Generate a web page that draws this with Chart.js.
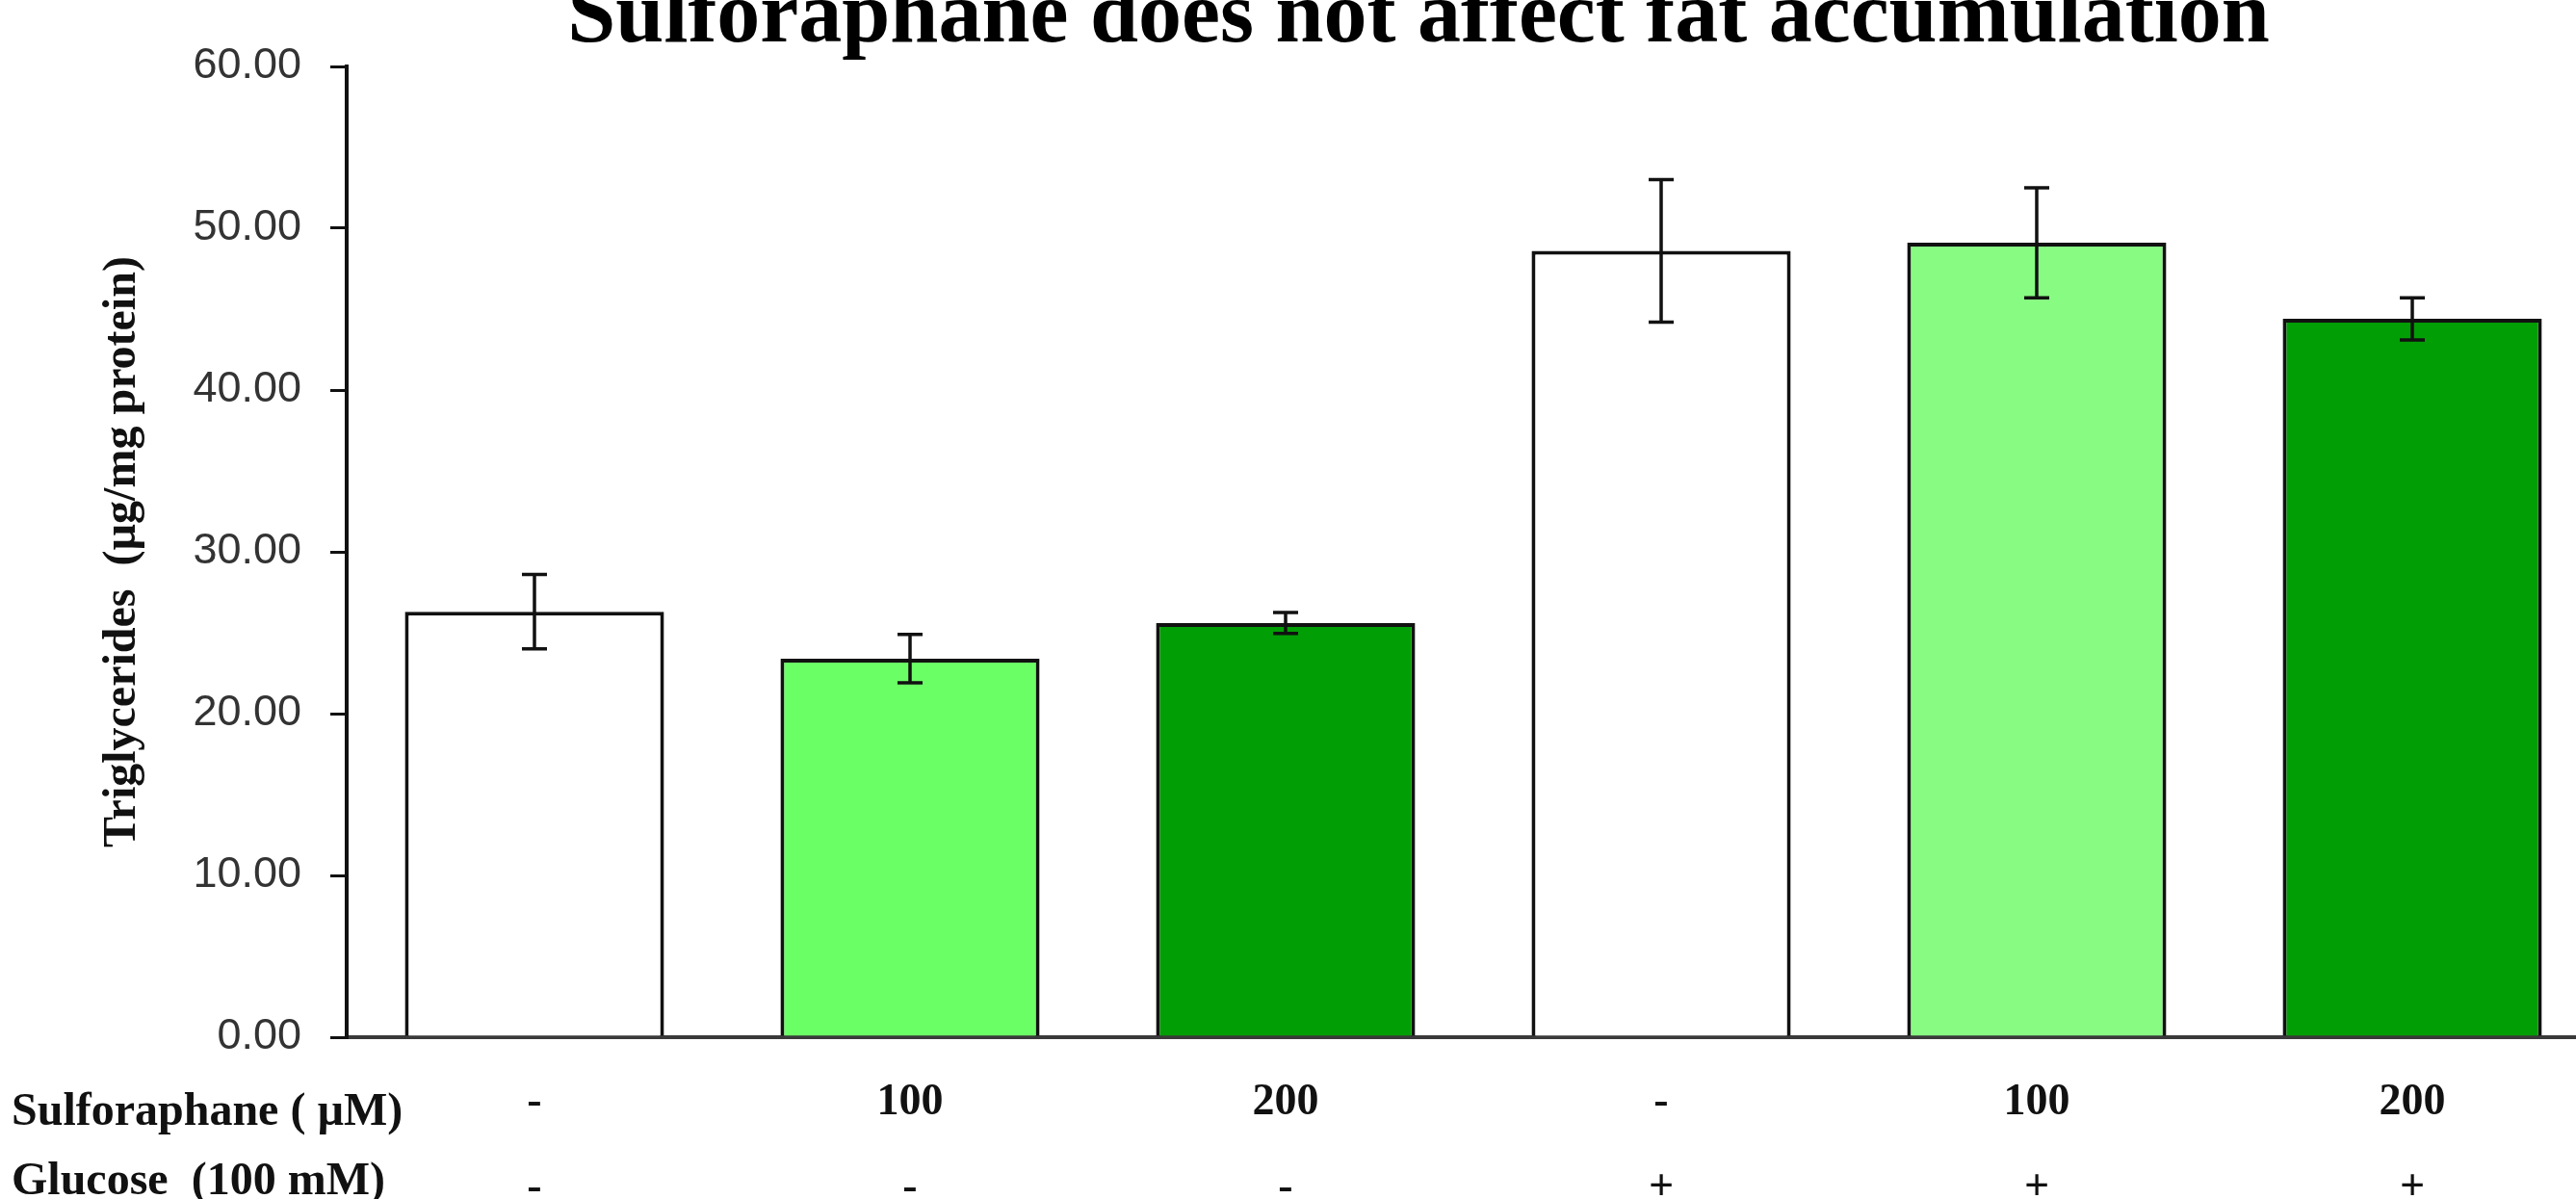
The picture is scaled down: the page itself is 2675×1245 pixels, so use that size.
<!DOCTYPE html>
<html>
<head>
<meta charset="utf-8">
<script src="https://cdn.jsdelivr.net/npm/chart.js@4/dist/chart.umd.min.js"></script>
<style>
  html, body { margin: 0; padding: 0; background: #ffffff; overflow: hidden; }
  #wrap { position: relative; width: 2700px; height: 1245px; }
</style>
</head>
<body>
<div id="wrap"><canvas id="chart"></canvas></div>
<script>
// Treatment groups: sulforaphane dose (µM) and glucose (100 mM) presence
const sulforaphaneDose = ['-', '100', '200', '-', '100', '200'];
const glucose = ['-', '-', '-', '+', '+', '+'];
// Triglyceride content (µg/mg protein), mean and error
const triglycerides = [26.3, 23.4, 25.6, 48.6, 49.1, 44.4];
const triglycerideErr = [2.3, 1.5, 0.65, 4.4, 3.4, 1.3];
const barColors = ['#ffffff', '#6bff66', '#029e05', '#ffffff', '#88fb83', '#029e05'];
const chartTitle = 'Sulforaphane does not affect fat accumulation';
const rowTitles = ['Sulforaphane ( \u00b5M)', 'Glucose  (100 mM)'];
const yMin = 0, yMax = 60, yStep = 10;

const labels = sulforaphaneDose.map((d, i) => [d, glucose[i]]);

// error bars drawn on top of the bars
const errorBars = {
  id: 'errorBars',
  afterDatasetsDraw(chart) {
    const { ctx, scales: { y } } = chart;
    const meta = chart.getDatasetMeta(0);
    ctx.save();
    ctx.strokeStyle = '#111111';
    ctx.lineWidth = 3.5;
    meta.data.forEach((bar, i) => {
      const v = triglycerides[i], e = triglycerideErr[i];
      const top = y.getPixelForValue(v + e);
      const bot = y.getPixelForValue(v - e);
      const x = bar.x, cap = 13;
      ctx.beginPath();
      ctx.moveTo(x, top); ctx.lineTo(x, bot);
      ctx.moveTo(x - cap, top); ctx.lineTo(x + cap, top);
      ctx.moveTo(x - cap, bot); ctx.lineTo(x + cap, bot);
      ctx.stroke();
    });
    ctx.restore();
  }
};

// heading and the row captions of the treatment table
const captions = {
  id: 'captions',
  afterDraw(chart) {
    const { ctx } = chart;
    ctx.save();
    ctx.textBaseline = 'alphabetic';
    ctx.fillStyle = '#000000';
    ctx.font = 'bold 90px "Liberation Serif"';
    ctx.textAlign = 'center';
    ctx.fillText(chartTitle, 1473, 43);
    ctx.fillStyle = '#111111';
    ctx.font = 'bold 48px "Liberation Serif"';
    ctx.textAlign = 'left';
    ctx.fillText(rowTitles[0], 12, 1168);
    ctx.fillText(rowTitles[1], 12, 1240);
    ctx.restore();
  }
};

new Chart(document.getElementById('chart'), {
  type: 'bar',
  data: {
    labels: labels,
    datasets: [{
      data: triglycerides,
      backgroundColor: barColors,
      borderColor: '#111111',
      borderWidth: 4,
      barPercentage: 0.69,
      categoryPercentage: 1.0
    }]
  },
  options: {
    responsive: true,
    maintainAspectRatio: false,
    animation: false,
    layout: { padding: { top: 69, left: 0, right: 0, bottom: 0 } },
    plugins: {
      legend: { display: false },
      tooltip: { enabled: false },
      title: { display: false }
    },
    scales: {
      x: {
        afterFit(scale) { scale.height = 168; },
        grid: { display: false, drawTicks: false },
        border: { display: true, color: '#3a3a3a', width: 4 },
        ticks: {
          color: '#111111',
          padding: 24,
          maxRotation: 0,
          autoSkip: false,
          font: { family: '"Liberation Serif"', weight: 'bold', size: 46, lineHeight: 1.93 }
        }
      },
      y: {
        min: yMin,
        max: yMax,
        afterFit(scale) { scale.width = 360; },
        grid: {
          display: true,
          drawOnChartArea: false,
          drawTicks: true,
          tickLength: 17,
          color: '#111111',
          lineWidth: 3
        },
        border: { display: true, color: '#111111', width: 4 },
        ticks: {
          stepSize: yStep,
          color: '#333333',
          padding: 30,
          font: { family: '"Liberation Sans"', size: 45 },
          callback: (v) => Number(v).toFixed(2)
        },
        title: {
          display: true,
          text: 'Triglycerides  (\u00b5g/mg protein)',
          color: '#111111',
          font: { family: '"Liberation Serif"', weight: 'bold', size: 48, lineHeight: 1.2 },
          padding: { top: 99, bottom: 0 }
        }
      }
    }
  },
  plugins: [errorBars, captions]
});
</script>
</body>
</html>
